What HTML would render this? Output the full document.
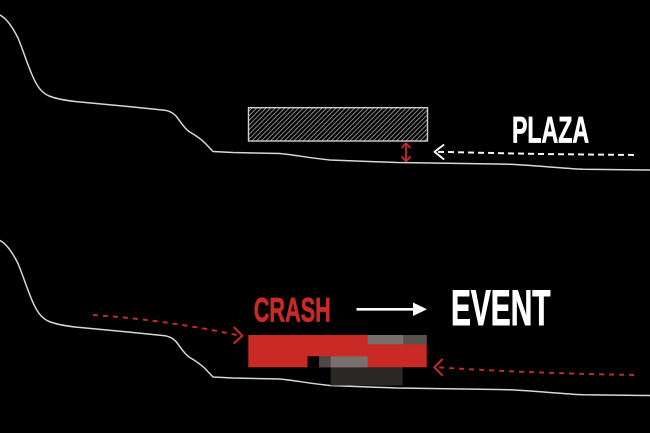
<!DOCTYPE html>
<html>
<head>
<meta charset="utf-8">
<style>
  html,body{margin:0;padding:0;background:#000;}
  body{width:650px;height:433px;overflow:hidden;}
  svg{display:block;}
  text{font-family:"Liberation Sans Narrow","Liberation Sans",sans-serif;font-weight:bold;}
</style>
</head>
<body>
<svg width="650" height="433" viewBox="0 0 650 433" xmlns="http://www.w3.org/2000/svg">
  <defs>
    <pattern id="hatch" patternUnits="userSpaceOnUse" width="3.3" height="10" patternTransform="rotate(45)">
      <line x1="0.5" y1="-2" x2="0.5" y2="12" stroke="#8a8a8a" stroke-width="1"/>
    </pattern>
  </defs>
  <rect width="650" height="433" fill="#000"/>

  <!-- ground lines -->
  <path fill="none" stroke="#d8d8d8" stroke-width="1.5" stroke-linejoin="round" stroke-linecap="round" d="M0,15 C6,18 12,26 18,38 C23,50 28,66 33,77 C37,86 41,92 48,95.5 C55,98.5 62,100 75,101.5 L133,107 L165,110.3 C170,111 173,113 176,116 C180,121 184,128 189,131.5 C195,135 200,138 205,143 L213,151.5 L233,152.5 L280,153.5 C295,155 310,158 330,160 L397,162.5 L497,164 L513,164.4 C540,166 560,168 583,169.3 L650,170"/>
  <path transform="translate(0,225.5)" fill="none" stroke="#d8d8d8" stroke-width="1.5" stroke-linejoin="round" stroke-linecap="round" d="M0,15 C6,18 12,26 18,38 C23,50 28,66 33,77 C37,86 41,92 48,95.5 C55,98.5 62,100 75,101.5 L133,107 L165,110.3 C170,111 173,113 176,116 C180,121 184,128 189,131.5 C195,135 200,138 205,143 L213,151.5 L233,152.5 L280,153.5 C295,155 310,158 330,160 L397,162.5 L497,164 L513,164.4 C540,166 560,168 583,169.3 L650,170"/>

  <!-- TOP: hatched plaza block -->
  <rect x="248.5" y="107.7" width="179" height="33.3" fill="url(#hatch)" stroke="#cfcfcf" stroke-width="1.4"/>

  <!-- red double arrow -->
  <g stroke="#c92a25" stroke-width="1.8" fill="none" stroke-linecap="round" stroke-linejoin="round">
    <line x1="406" y1="143.5" x2="406" y2="161"/>
    <polyline points="402,147.5 406,143.3 410,147.5"/>
    <polyline points="402,157 406,161.2 410,157"/>
  </g>

  <!-- white dashed arrow -->
  <g stroke="#f2f2f2" stroke-width="2" fill="none">
    <path d="M634,155 L540,154 L436,151.8" stroke-dasharray="6 4"/>
    <polyline points="443.5,145 434.5,151.8 443.5,159" stroke-linecap="round" stroke-linejoin="round"/>
  </g>

  <text x="512" y="142.3" font-size="37" fill="#ffffff" stroke="#ffffff" stroke-width="0.7" textLength="77" lengthAdjust="spacingAndGlyphs">PLAZA</text>

  <!-- BOTTOM -->
  <text x="253.8" y="321.7" font-size="34.5" fill="#c92a25" stroke="#c92a25" stroke-width="0.7" textLength="77" lengthAdjust="spacingAndGlyphs">CRASH</text>
  <text x="451" y="325" font-size="50.5" fill="#ffffff" stroke="#ffffff" stroke-width="0.9" textLength="99.5" lengthAdjust="spacingAndGlyphs">EVENT</text>

  <!-- white solid arrow -->
  <line x1="356.5" y1="309.3" x2="414" y2="309.3" stroke="#ffffff" stroke-width="2.6"/>
  <polygon points="413,302.5 427,309.3 413,316" fill="#ffffff"/>

  <!-- red dashed arrows -->
  <g stroke="#c92a25" stroke-width="2" fill="none">
    <path d="M93,315 C140,318 190,325 239,335.5" stroke-dasharray="5 5"/>
    <polyline points="234.3,327.5 242.3,335.7 234.3,343" stroke-linecap="round" stroke-linejoin="round"/>
    <path d="M634,375 C580,374 510,372 437,367.3" stroke-dasharray="5 5"/>
    <polyline points="442,359.5 434.3,367.3 442,375" stroke-linecap="round" stroke-linejoin="round"/>
  </g>

  <!-- crash/event blocks -->
  <rect x="330.7" y="367" width="72" height="18.5" fill="#2b2725"/>
  <rect x="248.3" y="335" width="178.4" height="32.3" fill="#c92a25"/>
  <rect x="367.7" y="335" width="35.6" height="9.3" fill="#77706c"/>
  <rect x="403.3" y="335" width="23.4" height="9.3" fill="#57524f"/>
  <rect x="307.5" y="356.3" width="11.7" height="11" fill="#000"/>
  <rect x="319.2" y="356.3" width="11.5" height="11" fill="#4d4845"/>
  <rect x="330.7" y="356.3" width="37" height="11" fill="#77706c"/>
</svg>
</body>
</html>
